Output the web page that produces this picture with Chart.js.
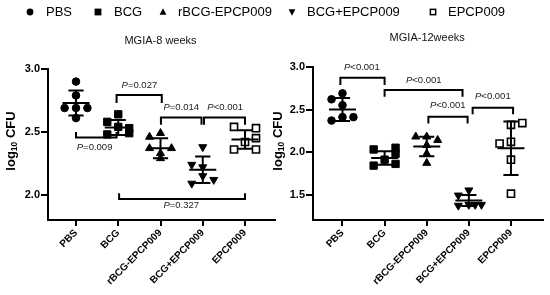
<!DOCTYPE html>
<html><head><meta charset="utf-8">
<script src="https://cdn.jsdelivr.net/npm/chart.js@4.4.1/dist/chart.umd.min.js"></script>
<style>
html,body{margin:0;padding:0;background:#fff;}
#wrap{position:relative;width:550px;height:295px;overflow:hidden;}
#c1{position:absolute;left:0;top:0;width:550px;height:295px;}
#c2{position:absolute;left:270px;top:0;width:280px;height:295px;}
</style></head><body>
<div id="wrap"><canvas id="c1" width="550" height="295"></canvas><canvas id="c2" width="280" height="295"></canvas></div>
<script>
// ---------- DATA ----------
const categories = ['PBS', 'BCG', 'rBCG-EPCP009', 'BCG+EPCP009', 'EPCP009'];
const yTicks8 = [2.0, 2.5, 3.0];
const yTicks12 = [1.5, 2.0, 2.5, 3.0];

// MGIA-8 weeks (log10 CFU), with horizontal jitter in category units
const pbs8 = [2.90, 2.79, 2.69, 2.69, 2.69, 2.61];
const pbs8Jit = [0, 0, -0.27, 0, 0.27, 0];
const bcg8 = [2.64, 2.58, 2.54, 2.53, 2.49, 2.48];
const bcg8Jit = [0, -0.26, 0, 0.26, 0.26, -0.26];
const rbcg8 = [2.49, 2.46, 2.37, 2.37, 2.33, 2.29];
const rbcg8Jit = [0, -0.26, -0.26, 0.26, 0, 0];
const bcgE8 = [2.38, 2.24, 2.22, 2.15, 2.12, 2.09];
const bcgE8Jit = [0, -0.26, 0, 0, 0.26, -0.26];
const epcp8 = [2.54, 2.53, 2.45, 2.42, 2.36, 2.36];
const epcp8Jit = [-0.26, 0.26, 0.26, 0, -0.26, 0.26];
const mean8 = [2.73, 2.535, 2.37, 2.20, 2.44];
const sd8 = [0.10, 0.06, 0.08, 0.105, 0.073];

// MGIA-12 weeks
const pbs12 = [2.69, 2.62, 2.55, 2.37, 2.41, 2.41];
const pbs12Jit = [0, -0.26, 0, -0.26, 0, 0.26];
const bcg12 = [2.03, 2.05, 1.98, 1.91, 1.84, 1.86];
const bcg12Jit = [-0.26, 0.26, 0.26, 0, -0.26, 0.26];
const rbcg12 = [2.18, 2.18, 2.14, 2.08, 1.98, 1.87];
const rbcg12Jit = [-0.26, 0, 0.26, 0, 0, 0];
const bcgE12 = [1.55, 1.49, 1.37, 1.38, 1.38, 1.38];
const bcgE12Jit = [0, -0.25, -0.25, 0, 0.15, 0.3];
const epcp12 = [2.32, 2.34, 2.10, 2.12, 1.91, 1.51];
const epcp12Jit = [0, 0.27, -0.27, 0, 0, 0];
const mean12 = [2.50, 1.93, 2.065, 1.43, 2.045];
const sd12 = [0.135, 0.08, 0.115, 0.065, 0.315];

// significance brackets: from/to in category units, line & tip in log10 CFU
const brackets8 = [
  {from: 0, to: 0.96, line: 2.455, tip: 2.50},
  {from: 0.96, to: 2.03, line: 2.794, tip: 2.73},
  {from: 2.01, to: 2.97, line: 2.614, tip: 2.556},
  {from: 3.03, to: 4.0, line: 2.614, tip: 2.556},
  {from: 1.02, to: 4.0, line: 1.966, tip: 2.013}
];
const pLabels8 = [
  {t: 'P=0.009', x: 0.44, y: 2.379},
  {t: 'P=0.027', x: 1.50, y: 2.873},
  {t: 'P=0.014', x: 2.49, y: 2.693},
  {t: 'P<0.001', x: 3.53, y: 2.693},
  {t: 'P=0.327', x: 2.49, y: 1.915}
];
const brackets12 = [
  {from: -0.05, to: 1.0, line: 2.874, tip: 2.787},
  {from: 1.0, to: 2.85, line: 2.73, tip: 2.65},
  {from: 2.04, to: 2.97, line: 2.414, tip: 2.335},
  {from: 3.09, to: 4.05, line: 2.52, tip: 2.445}
];
const pLabels12 = [
  {t: 'P<0.001', x: 0.46, y: 3.0},
  {t: 'P<0.001', x: 1.93, y: 2.847},
  {t: 'P<0.001', x: 2.50, y: 2.55},
  {t: 'P<0.001', x: 3.57, y: 2.657}
];

// ---------- RENDERING ----------
const FONT = "'Liberation Sans', Arial, Helvetica, sans-serif";
Chart.defaults.font.family = FONT;
Chart.defaults.color = '#000';

function pts(vals, jit, i) { return vals.map((v, k) => ({x: i + jit[k], y: v})); }

const styles = [
  {pointStyle: 'circle', radius: 3.8, fill: '#000', bw: 1, rot: 0},
  {pointStyle: 'rect', radius: 5.2, fill: '#000', bw: 1, rot: 0},
  {pointStyle: 'triangle', radius: 4.6, fill: '#000', bw: 1, rot: 0},
  {pointStyle: 'triangle', radius: 4.6, fill: '#000', bw: 1, rot: 180},
  {pointStyle: 'rect', radius: 5.0, fill: '#fff', bw: 1.6, rot: 0}
];

function makeDatasets(groups) {
  return groups.map((g, i) => ({
    label: categories[i],
    data: pts(g[0], g[1], i),
    pointStyle: styles[i].pointStyle,
    pointRadius: styles[i].radius,
    pointHoverRadius: styles[i].radius,
    pointRotation: styles[i].rot,
    backgroundColor: styles[i].fill,
    borderColor: '#000',
    borderWidth: styles[i].bw,
    showLine: false
  }));
}

function drawMarker(ctx, kind, x, y, r) {
  ctx.save();
  ctx.fillStyle = '#000'; ctx.strokeStyle = '#000'; ctx.lineWidth = 1.5;
  ctx.beginPath();
  if (kind === 0) { ctx.arc(x, y, r, 0, Math.PI * 2); ctx.fill(); }
  else if (kind === 1) { ctx.fillRect(x - r, y - r, 2 * r, 2 * r); }
  else if (kind === 2) { ctx.moveTo(x, y - r * 1.1); ctx.lineTo(x + r, y + r * 0.8); ctx.lineTo(x - r, y + r * 0.8); ctx.closePath(); ctx.fill(); }
  else if (kind === 3) { ctx.moveTo(x, y + r * 1.1); ctx.lineTo(x + r, y - r * 0.8); ctx.lineTo(x - r, y - r * 0.8); ctx.closePath(); ctx.fill(); }
  else { ctx.fillStyle = '#fff'; ctx.fillRect(x - r, y - r, 2 * r, 2 * r); ctx.strokeRect(x - r + 0.75, y - r + 0.75, 2 * r - 1.5, 2 * r - 1.5); }
  ctx.restore();
}

function drawPText(ctx, t, cx, cy) {
  ctx.save();
  ctx.fillStyle = '#222';
  ctx.textBaseline = 'middle';
  ctx.textAlign = 'left';
  const fi = 'italic 9.5px ' + FONT, fr = '9.5px ' + FONT;
  ctx.font = fi; const w1 = ctx.measureText(t[0]).width;
  ctx.font = fr; const w2 = ctx.measureText(t.slice(1)).width;
  const x0 = cx - (w1 + w2) / 2;
  ctx.font = fi; ctx.fillText(t[0], x0, cy);
  ctx.font = fr; ctx.fillText(t.slice(1), x0 + w1, cy);
  ctx.restore();
}

function drawYTitle(ctx, cx, cy) {
  ctx.save();
  ctx.translate(cx, cy);
  ctx.rotate(-Math.PI / 2);
  ctx.fillStyle = '#000';
  ctx.textBaseline = 'middle';
  ctx.textAlign = 'left';
  const big = 'bold 13px ' + FONT, small = 'bold 8.5px ' + FONT;
  ctx.font = big; const a = ctx.measureText('log').width;
  ctx.font = small; const b = ctx.measureText('10').width;
  ctx.font = big; const c = ctx.measureText(' CFU').width;
  let x = -(a + b + c) / 2;
  ctx.font = big; ctx.fillText('log', x, 0); x += a;
  ctx.font = small; ctx.fillText('10', x, 4); x += b;
  ctx.font = big; ctx.fillText(' CFU', x, 0);
  ctx.restore();
}

function overlayPlugin(cfg) {
  return {
    id: 'overlay_' + cfg.id,
    afterDatasetsDraw(chart) {
      const ctx = chart.ctx, xs = chart.scales.x, ys = chart.scales.y;
      ctx.save();
      ctx.strokeStyle = '#000';
      ctx.lineWidth = 2;
      ctx.lineCap = 'butt';
      // mean ± SD
      cfg.means.forEach((m, i) => {
        const xc = xs.getPixelForValue(i);
        const xm0 = xs.getPixelForValue(i - 0.32), xm1 = xs.getPixelForValue(i + 0.32);
        const xe0 = xs.getPixelForValue(i - 0.18), xe1 = xs.getPixelForValue(i + 0.18);
        const ym = ys.getPixelForValue(m), yt = ys.getPixelForValue(m + cfg.sds[i]), yb = ys.getPixelForValue(m - cfg.sds[i]);
        ctx.beginPath();
        ctx.moveTo(xm0, ym); ctx.lineTo(xm1, ym);
        ctx.moveTo(xe0, yt); ctx.lineTo(xe1, yt);
        ctx.moveTo(xe0, yb); ctx.lineTo(xe1, yb);
        ctx.moveTo(xc, yt); ctx.lineTo(xc, yb);
        ctx.stroke();
      });
      // brackets
      cfg.brackets.forEach(b => {
        const x0 = xs.getPixelForValue(b.from), x1 = xs.getPixelForValue(b.to);
        const yl = ys.getPixelForValue(b.line), yt = ys.getPixelForValue(b.tip);
        ctx.beginPath();
        ctx.moveTo(x0, yt); ctx.lineTo(x0, yl); ctx.lineTo(x1, yl); ctx.lineTo(x1, yt);
        ctx.stroke();
      });
      ctx.restore();
      cfg.labels.forEach(l => drawPText(ctx, l.t, xs.getPixelForValue(l.x), ys.getPixelForValue(l.y)));
      // panel title
      ctx.save();
      ctx.fillStyle = '#111';
      ctx.font = '11px ' + FONT;
      ctx.textAlign = 'center';
      ctx.textBaseline = 'middle';
      const ca = chart.chartArea;
      ctx.fillText(cfg.title, (ca.left + ca.right) / 2 - 1, cfg.titleY);
      ctx.restore();
      drawYTitle(ctx, cfg.yTitleX, 141);
      if (cfg.legend) {
        const mx = [30, 98, 163, 292, 433], tx = [46, 114, 178, 307, 448];
        categories.forEach((c, i) => {
          drawMarker(ctx, i, mx[i], 12, 3.4);
          ctx.save();
          ctx.fillStyle = '#000';
          ctx.font = '13px ' + FONT;
          ctx.textBaseline = 'middle';
          ctx.textAlign = 'left';
          ctx.fillText(c, tx[i], 12);
          ctx.restore();
        });
      }
    }
  };
}

function axisCfg(opts) {
  return {
    x: {
      type: 'linear', min: opts.xmin, max: opts.xmax,
      afterBuildTicks: s => { s.ticks = categories.map((c, i) => ({value: i})); },
      ticks: {
        callback: v => categories[v], autoSkip: false,
        minRotation: 45, maxRotation: 45,
        font: {size: 10, weight: 'bold'}, color: '#000', padding: 1
      },
      grid: {display: true, drawOnChartArea: false, drawTicks: true, tickLength: 6, color: '#000', lineWidth: 2},
      border: {display: true, color: '#000', width: 2},
      afterFit: s => { s.height = 75; }
    },
    y: {
      type: 'linear', min: opts.ymin, max: opts.ymax,
      afterBuildTicks: s => { s.ticks = opts.yTicks.map(v => ({value: v})); },
      ticks: {callback: v => v.toFixed(1), font: {size: 11, weight: 'bold'}, color: '#000', padding: 1},
      grid: {display: true, drawOnChartArea: false, drawTicks: true, tickLength: 7, color: '#000', lineWidth: 2},
      border: {display: true, color: '#000', width: 2},
      afterFit: s => { s.width = opts.yw; }
    }
  };
}

const common = {
  responsive: false, animation: false, devicePixelRatio: 1,
  plugins: {legend: {display: false}, tooltip: {enabled: false}, title: {display: false}},
  events: []
};

new Chart(document.getElementById('c1'), {
  type: 'scatter',
  data: {datasets: makeDatasets([[pbs8, pbs8Jit], [bcg8, bcg8Jit], [rbcg8, rbcg8Jit], [bcgE8, bcgE8Jit], [epcp8, epcp8Jit]])},
  options: Object.assign({}, common, {
    layout: {padding: {left: 0, right: 275, top: 69, bottom: 0}},
    scales: axisCfg({xmin: -0.663, xmax: 4.71, ymin: 1.8, ymax: 3.0, yTicks: yTicks8, yw: 48})
  }),
  plugins: [overlayPlugin({id: 'a', means: mean8, sds: sd8, brackets: brackets8, labels: pLabels8, title: 'MGIA-8 weeks', titleY: 41, yTitleX: 11, legend: true})]
});

new Chart(document.getElementById('c2'), {
  type: 'scatter',
  data: {datasets: makeDatasets([[pbs12, pbs12Jit], [bcg12, bcg12Jit], [rbcg12, rbcg12Jit], [bcgE12, bcgE12Jit], [epcp12, epcp12Jit]])},
  options: Object.assign({}, common, {
    layout: {padding: {left: 0, right: 3, top: 67, bottom: 0}},
    scales: axisCfg({xmin: -0.70, xmax: 4.77, ymin: 1.2, ymax: 3.0, yTicks: yTicks12, yw: 43})
  }),
  plugins: [overlayPlugin({id: 'b', means: mean12, sds: sd12, brackets: brackets12, labels: pLabels12, title: 'MGIA-12weeks', titleY: 38, yTitleX: 8, legend: false})]
});
</script>
</body></html>
